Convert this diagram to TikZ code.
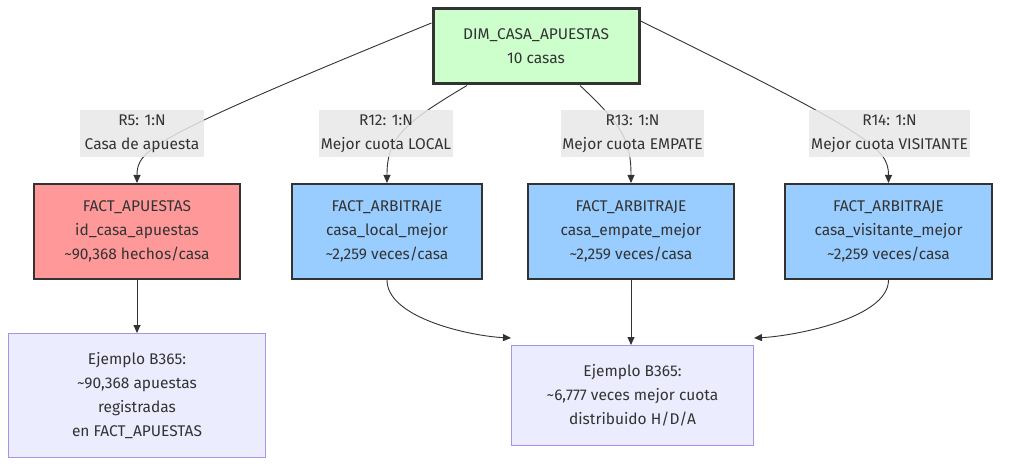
\documentclass[tikz,border=0pt]{standalone}
\usepackage{fontspec}
\setmainfont{Fira Sans}
\usetikzlibrary{arrows.meta,calc}
\definecolor{edgec}{HTML}{333333}
\definecolor{txt}{HTML}{333333}
\definecolor{dimfill}{HTML}{CCFFCC}
\definecolor{redfill}{HTML}{FF9999}
\definecolor{bluefill}{HTML}{99CCFF}
\definecolor{exfill}{HTML}{ECECFF}
\definecolor{exdraw}{HTML}{A894E4}
\definecolor{lblfill}{HTML}{E8E8E8}
\tikzset{
  base/.style={align=center, text=txt, font=\fontsize{15.5}{24}\selectfont, inner sep=0pt},
  dimbox/.style={base, draw=edgec, line width=3pt, fill=dimfill, minimum width=206pt, minimum height=75pt},
  factbox/.style={base, draw=edgec, line width=2pt, minimum width=206pt, minimum height=95pt},
  arbbox/.style={factbox, fill=bluefill},
  exbox/.style={base, draw=exdraw, line width=1pt, fill=exfill},
  lbl/.style={base, fill=lblfill, fill opacity=0.85, text opacity=1, minimum height=47pt},
  conn/.style={draw=edgec, line width=0.9pt, -{Triangle[length=8pt,width=7pt]}},
}
\begin{document}
\begin{tikzpicture}[x=1pt,y=-1pt]
\useasboundingbox[fill=white] (0,0) rectangle (1011,470);
% nodes
\node[dimbox] (dim) at (536,46.5) {DIM\_CASA\_APUESTAS\\10 casas};
\node[factbox, fill=redfill] (fa) at (137,231.5) {FACT\_APUESTAS\\id\_casa\_apuestas\\\textasciitilde90,368 hechos/casa};
\node[arbbox, minimum width=190pt] (ar1) at (387,231.5) {FACT\_ARBITRAJE\\casa\_local\_mejor\\\textasciitilde2,259 veces/casa};
\node[arbbox] (ar2) at (631,231.5) {FACT\_ARBITRAJE\\casa\_empate\_mejor\\\textasciitilde2,259 veces/casa};
\node[arbbox, minimum width=207pt] (ar3) at (888.5,231.5) {FACT\_ARBITRAJE\\casa\_visitante\_mejor\\\textasciitilde2,259 veces/casa};
\node[exbox, minimum width=257pt, minimum height=124pt] (ex1) at (137,395.5) {Ejemplo B365:\\\textasciitilde90,368 apuestas\\registradas\\en FACT\_APUESTAS};
\node[exbox, minimum width=242pt, minimum height=100pt] (ex2) at (632.5,395.5) {Ejemplo B365:\\\textasciitilde6,777 veces mejor cuota\\distribuido H/D/A};
% coordinates
\coordinate (s5) at ([yshift=23.5pt]dim.west);
\coordinate (s12) at ([xshift=-69pt]dim.south);
\coordinate (s13) at ([xshift=44pt]dim.south);
\coordinate (s14) at ([yshift=25.5pt]dim.east);
% edges top
\draw[conn] (s5) .. controls (150,138) and (137,150) .. (fa.north);
\draw[conn] (s12) .. controls (400,125) and (387,140) .. (ar1.north);
\draw[conn] (s13) .. controls (622,125) and (631,140) .. (ar2.north);
\draw[conn] (s14) .. controls (870,134) and (888.5,148) .. (ar3.north);
% labels (over edges)
\node[lbl, minimum width=124pt] (l5) at (142,133.5) {R5: 1:N\\Casa de apuesta};
\node[lbl, minimum width=134pt] (l12) at (386,133.5) {R12: 1:N\\Mejor cuota LOCAL};
\node[lbl, minimum width=143pt] (l13) at (632.5,133.5) {R13: 1:N\\Mejor cuota EMPATE};
\node[lbl, minimum width=161pt] (l14) at (889.5,133.5) {R14: 1:N\\Mejor cuota VISITANTE};
% bottom edges
\draw[conn] (fa.south) -- (ex1.north);
\draw[conn] (ar1.south) .. controls (387,318) and (470,336) .. ([yshift=7pt]ex2.north west);
\draw[conn] (ar2.south) -- ([xshift=-1.5pt]ex2.north);
\draw[conn] (ar3.south) .. controls (888.5,318) and (795,336) .. ([yshift=7pt]ex2.north east);
\end{tikzpicture}
\end{document}
